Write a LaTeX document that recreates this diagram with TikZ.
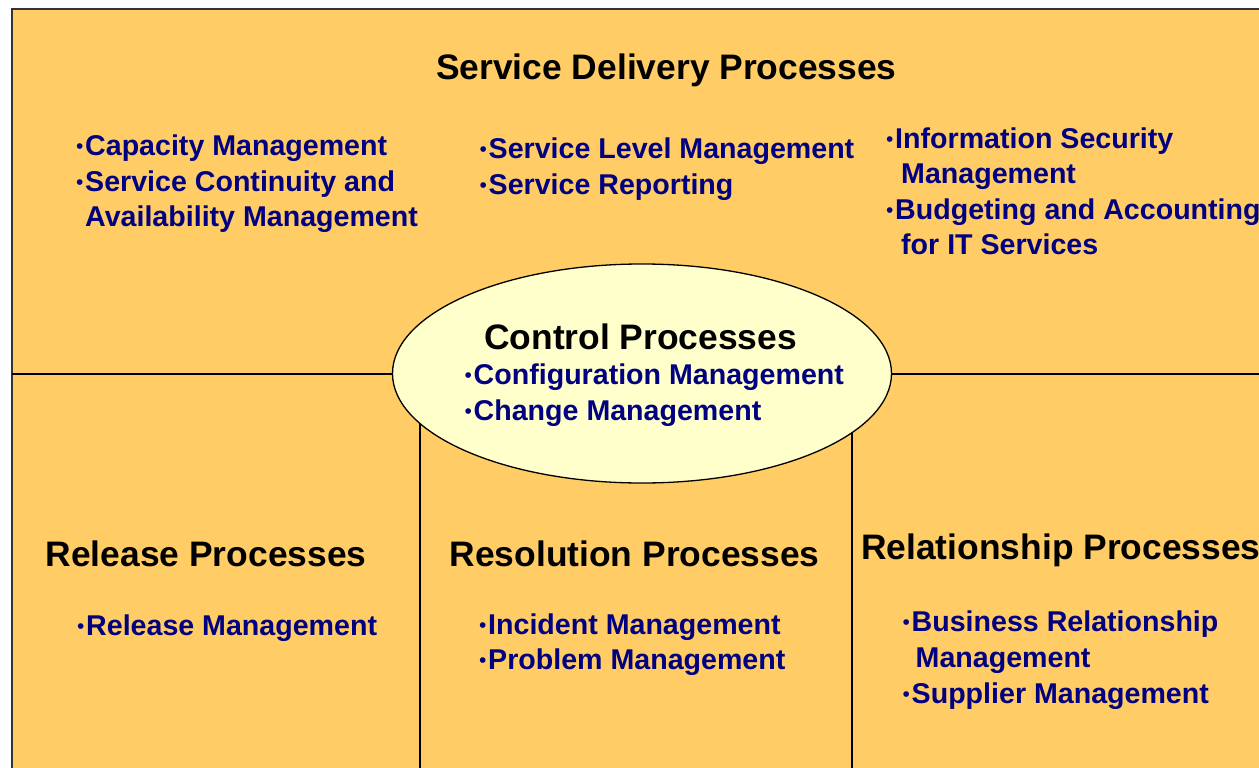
\documentclass[tikz,border=0pt]{standalone}
\usepackage{fontspec}
\setmainfont{Liberation Sans}
\usetikzlibrary{shapes.geometric}
\definecolor{boxfill}{HTML}{FFCC66}
\definecolor{ellfill}{HTML}{FFFFCC}
\definecolor{navytext}{HTML}{000080}
\newcommand{\bulletmark}{\makebox[10pt][l]{\hspace*{0.8pt}\raisebox{2pt}{\mdseries\fontsize{21}{21}\selectfont •}}}
\begin{document}
\begin{tikzpicture}[x=1pt,y=-1pt,
  head/.style={anchor=base west, inner sep=0, text=black, font=\fontsize{35.4}{40}\selectfont\bfseries},
  items/.style={anchor=base west, inner sep=0, text=navytext, font=\fontsize{28.6}{35.7}\selectfont\bfseries},
  divider/.style={line width=1.3pt, draw=black}]
\useasboundingbox (0,0) rectangle (1259,768);
\clip (0,0) rectangle (1259,768);
\fill[white] (0,0) rectangle (1259,768);
\draw[line width=2pt, draw=black!80, fill=boxfill] (12,9) rectangle (1280,800);
% dividers
\coordinate (hl) at (12,374);
\coordinate (hr) at (1280,374);
\coordinate (v1t) at (420,374);
\coordinate (v1b) at (420,800);
\coordinate (v2t) at (852,374);
\coordinate (v2b) at (852,800);
\draw[divider] (hl) -- (hr);
\draw[divider] (v1t) -- (v1b);
\draw[divider] (v2t) -- (v2b);
% central ellipse
\node[ellipse, draw=black, line width=1.3pt, fill=ellfill, minimum width=499pt, minimum height=219pt, inner sep=0] (ctrl) at (642,373.5) {};
% service delivery
\node[head] (sdh) at (436,79.5) {Service Delivery Processes};
\node[items] (sd1) at (75,155.8) {\begin{tabular}[t]{@{}l@{}}\bulletmark Capacity Management\\[-0.2pt]\bulletmark Service Continuity and\\[-0.2pt]\hphantom{\bulletmark}Availability Management\end{tabular}};
\node[items] (sd2) at (478.5,158.5) {\begin{tabular}[t]{@{}l@{}}\bulletmark Service Level Management\\\bulletmark Service Reporting\end{tabular}};
\node[items] (sd3) at (885,148) {\begin{tabular}[t]{@{}l@{}}\bulletmark Information Security\\[-0.2pt]\hphantom{\bulletmark}\hspace*{6pt}Management\\[-0.2pt]\bulletmark Budgeting and Accounting\\[-0.2pt]\hphantom{\bulletmark}\hspace*{6pt}for IT Services\end{tabular}};
% control
\node[head] (cph) at (484,349.3) {Control Processes};
\node[items] (cp1) at (463.5,384) {\begin{tabular}[t]{@{}l@{}}\bulletmark Configuration Management\\[1pt]\bulletmark Change Management\end{tabular}};
% release
\node[head] (rlh) at (45.5,566) {Release Processes};
\node[items] (rl1) at (76,635) {\bulletmark Release Management};
% resolution
\node[head] (rsh) at (449.5,566.5) {Resolution Processes};
\node[items] (rs1) at (478,634) {\begin{tabular}[t]{@{}l@{}}\bulletmark Incident Management\\\bulletmark Problem Management\end{tabular}};
% relationship
\node[head] (rph) at (861,559.5) {Relationship Processes};
\node[items] (rp1) at (901.5,631) {\begin{tabular}[t]{@{}l@{}}\bulletmark Business Relationship\\[0.6pt]\hphantom{\bulletmark}\hspace*{4pt}Management\\[0.6pt]\bulletmark Supplier Management\end{tabular}};
\end{tikzpicture}
\end{document}
